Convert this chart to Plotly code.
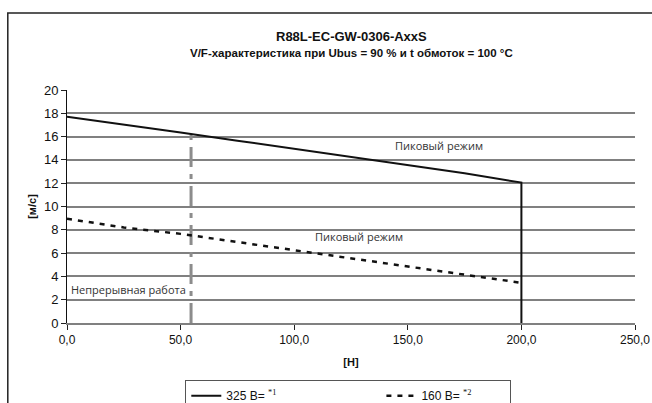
import plotly.graph_objects as go

# ---- data ----
force_325 = [0, 25, 50, 75, 100, 125, 150, 175, 200, 200]
speed_325 = [17.7, 17.05, 16.35, 15.65, 14.95, 14.25, 13.5, 12.85, 12.05, 0]

force_160 = [0, 25, 50, 75, 100, 125, 150, 175, 200]
speed_160 = [8.95, 8.2, 7.65, 6.95, 6.25, 5.55, 4.85, 4.15, 3.45]

cont_limit_x = [54.6, 54.6]
cont_limit_y = [0, 16.25]

x_ticks = [0, 50, 100, 150, 200, 250]
x_ticktext = ["0,0", "50,0", "100,0", "150,0", "200,0", "250,0"]
y_ticks = list(range(0, 21, 2))

title_main = "R88L-EC-GW-0306-AxxS"
title_sub = "V/F-характеристика при Ubus = 90 % и t обмоток = 100 °C"
name_325 = "325 В="
name_160 = "160 В="

# ---- layout geometry (pixels) ----
W, H = 652, 403
L, R, T, B = 66.7, 17.3, 89.7, 80.3
pw, ph = W - L - R, H - T - B

def px_to_paper_x(px):
    return (px - L) / pw

def px_to_paper_y(py):
    return (H - B - py) / ph

SANS = "Liberation Sans, Arial, sans-serif"

def legend_name(base, sup, pad):
    return (base + " <sup><span style='font-family:Liberation Serif'>" + sup +
            "</span></sup>" + "&nbsp;" * pad + "<span style='fill:white'>.</span>")

fig = go.Figure()

fig.add_trace(go.Scatter(
    x=cont_limit_x, y=cont_limit_y, mode="lines",
    line=dict(color="#8c8c8c", width=3, dash="20px,7px,5px,7px"),
    showlegend=False, hoverinfo="skip"))

fig.add_trace(go.Scatter(
    x=force_325, y=speed_325, mode="lines",
    name=legend_name(name_325, "*1", 29),
    line=dict(color="#111111", width=2)))

fig.add_trace(go.Scatter(
    x=force_160, y=speed_160, mode="lines",
    name=legend_name(name_160, "*2", 9),
    line=dict(color="#111111", width=2.5, dash="5px,6px")))

annotations = [
    dict(text="<b>" + title_main + "</b>", x=0.5, y=px_to_paper_y(36.5),
         xref="paper", yref="paper", showarrow=False,
         font=dict(family=SANS, size=13, color="#111111"),
         xanchor="center", yanchor="middle"),
    dict(text="<b>" + title_sub + "</b>", x=0.5, y=px_to_paper_y(53),
         xref="paper", yref="paper", showarrow=False,
         font=dict(family=SANS, size=11.5, color="#111111"),
         xanchor="center", yanchor="middle"),
    dict(text="Пиковый режим", x=163.9, y=15.2, xref="x", yref="y",
         showarrow=False, font=dict(family="Open Sans", size=11, color="#333333")),
    dict(text="Пиковый режим", x=128.4, y=7.44, xref="x", yref="y",
         showarrow=False, font=dict(family="Open Sans", size=11, color="#333333")),
    dict(text="Непрерывная работа", x=27.1, y=2.87, xref="x", yref="y",
         showarrow=False, font=dict(family="Open Sans", size=11, color="#333333")),
]

shapes = [
    dict(type="rect", xref="paper", yref="paper",
         x0=px_to_paper_x(7.5), x1=px_to_paper_x(700),
         y0=px_to_paper_y(12.7), y1=px_to_paper_y(440),
         line=dict(color="#222222", width=1.5), fillcolor="rgba(0,0,0,0)",
         layer="below"),
]

fig.update_layout(
    width=W, height=H,
    margin=dict(l=L, r=R, t=T, b=B, pad=0, autoexpand=False),
    paper_bgcolor="white", plot_bgcolor="white",
    font=dict(family=SANS, size=12, color="#111111"),
    annotations=annotations, shapes=shapes,
    legend=dict(orientation="h", x=px_to_paper_x(185), y=px_to_paper_y(380),
                xanchor="left", yanchor="top",
                bordercolor="#555555", borderwidth=1, bgcolor="white",
                font=dict(family=SANS, size=12, color="#111111")),
    xaxis=dict(range=[0, 250], tickvals=x_ticks, ticktext=x_ticktext,
               showgrid=False, zeroline=False,
               showline=True, linecolor="#808080", linewidth=2,
               ticks="outside", ticklen=5, tickcolor="#222222", tickwidth=1,
               tickfont=dict(family=SANS, size=12),
               title=dict(text="<b>[Н]</b>", font=dict(family=SANS, size=11), standoff=12)),
    yaxis=dict(range=[0, 20], tickvals=y_ticks,
               showgrid=True, gridcolor="#808080", gridwidth=1.5, zeroline=False,
               showline=True, linecolor="#111111", linewidth=1,
               ticks="outside", ticklen=5, tickcolor="#222222", tickwidth=1,
               tickfont=dict(family=SANS, size=13),
               title=dict(text="<b>[м/с]</b>", font=dict(family=SANS, size=11), standoff=5)),
)

fig.write_html("out.html",
               config={"displayModeBar": False},
               post_script="document.body.style.margin='0px';"
                           "document.body.style.overflow='hidden';")
